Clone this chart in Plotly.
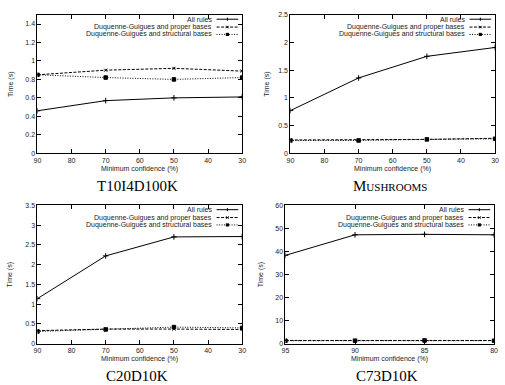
import plotly.graph_objects as go

W, H = 505, 385

# ---- data ----
conf_a = [90, 70, 50, 30]
conf_c73 = [95, 90, 85, 80]

t10_all = [0.46, 0.57, 0.60, 0.61]
t10_proper = [0.85, 0.90, 0.92, 0.89]
t10_struct = [0.85, 0.82, 0.80, 0.82]

mush_all = [0.77, 1.36, 1.75, 1.91]
mush_proper = [0.24, 0.24, 0.25, 0.27]
mush_struct = [0.23, 0.23, 0.25, 0.26]

c20_all = [1.14, 2.22, 2.70, 2.71]
c20_proper = [0.33, 0.37, 0.37, 0.36]
c20_struct = [0.31, 0.36, 0.42, 0.40]

c73_all = [38.3, 47.2, 47.4, 47.2]
c73_proper = [1.4, 1.5, 1.5, 1.4]
c73_struct = [1.3, 1.3, 1.4, 1.3]

series_names = ["All rules", "Duquenne-Guigues and proper bases",
                "Duquenne-Guigues and structural bases"]
titles = ["T10I4D100K", "M<span style='font-size:11px'>USHROOMS</span>",
          "C20D10K", "C73D10K"]

panels = [
    dict(x=conf_a, ys=[t10_all, t10_proper, t10_struct], yr=[0, 1.5], dy=0.2,
         xr=[90, 30], dx=10, px=(34, 242), py=(11, 152)),
    dict(x=conf_a, ys=[mush_all, mush_proper, mush_struct], yr=[0, 2.5], dy=0.5,
         xr=[90, 30], dx=10, px=(291, 499), py=(11, 152)),
    dict(x=conf_a, ys=[c20_all, c20_proper, c20_struct], yr=[0, 3.5], dy=0.5,
         xr=[90, 30], dx=10, px=(34, 242), py=(205, 346)),
    dict(x=conf_c73, ys=[c73_all, c73_proper, c73_struct], yr=[0, 60], dy=10,
         xr=[95, 80], dx=5, px=(286, 498), py=(205, 346)),
]

dashes = ["solid", "3px,1.5px", "1px,1.5px"]
symbols = ["cross-thin", "x-thin", "square"]
msizes = [4, 3, 3.5]

FONT = "Liberation Sans, Arial, sans-serif"
SERIF = "Liberation Serif, Times New Roman, serif"
BLACK = "#000000"
TXT = "#222222"

fig = go.Figure()
layout = dict(width=W, height=H, margin=dict(l=0, r=0, t=0, b=0),
              paper_bgcolor="white", plot_bgcolor="white", showlegend=False,
              font=dict(family=FONT, size=7, color=TXT))
annotations = []
shapes = []

for i, p in enumerate(panels):
    n = "" if i == 0 else str(i + 1)
    xa, ya = "x" + n, "y" + n
    for k in range(3):
        fig.add_trace(go.Scatter(
            x=p["x"], y=p["ys"][k], mode="lines+markers", name=series_names[k],
            xaxis=xa, yaxis=ya,
            line=dict(color=BLACK, width=1, dash=dashes[k]),
            marker=dict(symbol=symbols[k], size=msizes[k], color=BLACK,
                        line=dict(color=BLACK, width=1)),
        ))
    x0, x1 = p["px"]
    y0, y1 = p["py"]
    axcommon = dict(showgrid=False, zeroline=False, showline=True, linecolor=BLACK,
                    linewidth=1, mirror="ticks", ticks="inside", ticklen=4,
                    tickcolor=BLACK, tickwidth=1,
                    tickfont=dict(family=FONT, size=7, color=TXT))
    layout["xaxis" + n] = dict(domain=[x0 / W, x1 / W], range=p["xr"], dtick=p["dx"],
                               tick0=0, anchor=ya, **axcommon)
    layout["yaxis" + n] = dict(domain=[1 - y1 / H, 1 - y0 / H], range=p["yr"],
                               dtick=p["dy"], tick0=0, anchor=xa, **axcommon)
    # axis titles
    annotations.append(dict(text="Minimum confidence (%)", xref="paper", yref="paper",
                            x=(x0 + x1) / 2 / W, y=1 - (y1 + 16) / H, showarrow=False,
                            xanchor="center", yanchor="middle",
                            font=dict(family=FONT, size=7, color=TXT)))
    annotations.append(dict(text="Time (s)", xref="paper", yref="paper",
                            x=(x0 - 27 if x0 < 100 else x0 - 24) / W,
                            y=1 - (y0 + y1) / 2 / H, textangle=-90, showarrow=False,
                            xanchor="center", yanchor="middle",
                            font=dict(family=FONT, size=7, color=TXT)))
    # panel caption
    annotations.append(dict(text=titles[i], xref="paper", yref="paper",
                            x=(x0 + x1) / 2 / W - 0.005, y=1 - (y1 + 33) / H,
                            showarrow=False, xanchor="center", yanchor="middle",
                            font=dict(family=SERIF, size=15, color=BLACK)))
    # legend (gnuplot style: text then sample)
    pw, ph = x1 - x0, y1 - y0
    rows = [4.5, 12.5, 20.0]
    for k in range(3):
        ry = 1 - rows[k] / ph
        tx = (pw - 29) / pw
        annotations.append(dict(text=series_names[k], xref=xa + " domain",
                                yref=ya + " domain", x=tx, y=ry, showarrow=False,
                                xanchor="right", yanchor="middle",
                                font=dict(family=FONT, size=7, color=TXT)))
        lx0, lx1 = (pw - 26) / pw, (pw - 4) / pw
        shapes.append(dict(type="line", xref=xa + " domain", yref=ya + " domain",
                           x0=lx0, x1=lx1, y0=ry, y1=ry,
                           line=dict(color=BLACK, width=1, dash=dashes[k])))
        cx = (lx0 + lx1) / 2
        hx, hy = 1.6 / pw, 1.6 / ph
        if k == 0:
            shapes.append(dict(type="line", xref=xa + " domain", yref=ya + " domain",
                               x0=cx, x1=cx, y0=ry - hy, y1=ry + hy,
                               line=dict(color=BLACK, width=1)))
        elif k == 1:
            shapes.append(dict(type="line", xref=xa + " domain", yref=ya + " domain",
                               x0=cx - hx * 0.8, x1=cx + hx * 0.8, y0=ry - hy * 0.8,
                               y1=ry + hy * 0.8, line=dict(color=BLACK, width=1)))
            shapes.append(dict(type="line", xref=xa + " domain", yref=ya + " domain",
                               x0=cx - hx * 0.8, x1=cx + hx * 0.8, y0=ry + hy * 0.8,
                               y1=ry - hy * 0.8, line=dict(color=BLACK, width=1)))
        else:
            shapes.append(dict(type="rect", xref=xa + " domain", yref=ya + " domain",
                               x0=cx - hx, x1=cx + hx, y0=ry - hy, y1=ry + hy,
                               fillcolor=BLACK, line=dict(color=BLACK, width=0)))

layout["annotations"] = annotations
layout["shapes"] = shapes
fig.update_layout(**layout)
fig.write_html("out.html")
